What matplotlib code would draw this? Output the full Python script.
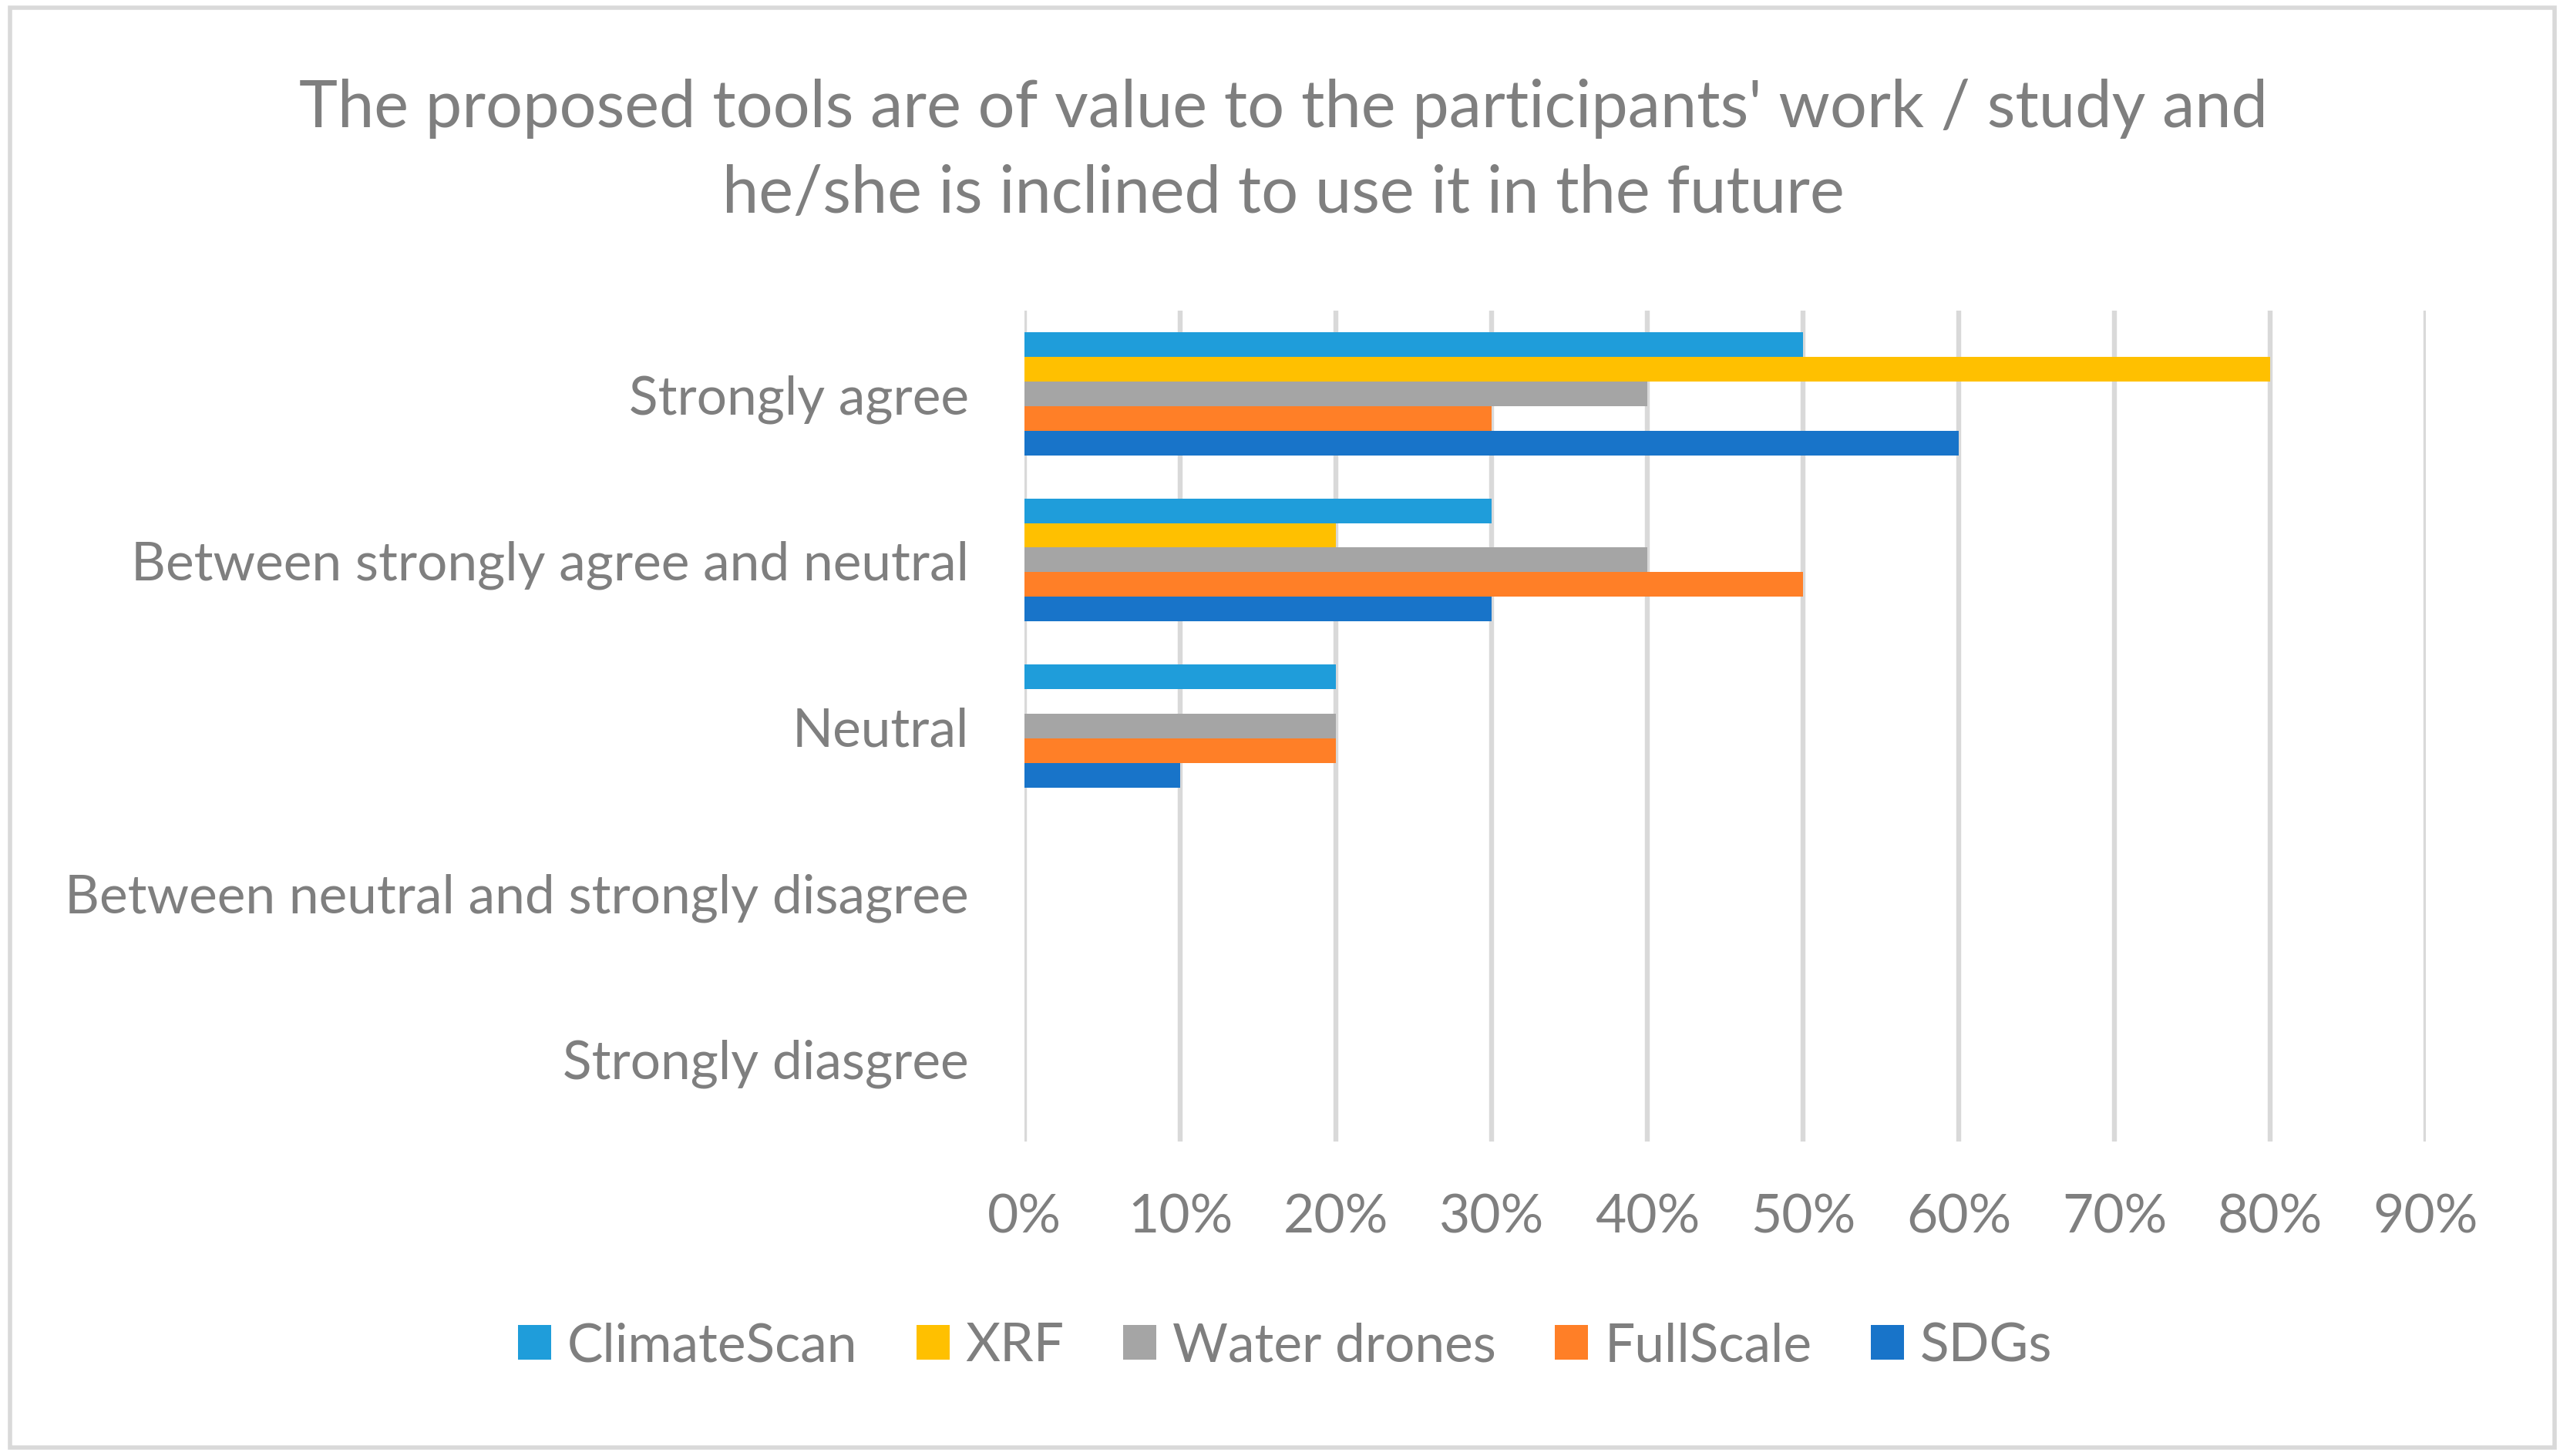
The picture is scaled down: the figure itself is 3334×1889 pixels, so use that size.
import matplotlib.pyplot as plt
import numpy as np
from matplotlib.patches import Rectangle

plt.rcParams['font.family'] = ['Lato', 'DejaVu Sans']

## categories (top to bottom) and series values in %
categories = ['Strongly agree', 'Between strongly agree and neutral', 'Neutral',
              'Between neutral and strongly disagree', 'Strongly diasgree']
series = ['ClimateScan', 'XRF', 'Water drones', 'FullScale', 'SDGs']
climatescan = [50, 30, 20, 0, 0]
xrf = [80, 20, 0, 0, 0]
water_drones = [40, 40, 20, 0, 0]
fullscale = [30, 50, 20, 0, 0]
sdgs = [60, 30, 10, 0, 0]
colors = ['#1F9DDA', '#FFC000', '#A5A5A5', '#FF7F27', '#1874C9']
x_ticks = [0, 10, 20, 30, 40, 50, 60, 70, 80, 90]

txt = '#7F7F7F'

fig = plt.figure(figsize=(16.67, 9.45), dpi=200)
ax = fig.add_axes([1329 / 3334, 1 - 1482 / 1890, (3147 - 1329) / 3334, (1482 - 404) / 1890])

y = np.arange(len(categories))
h = 0.148
valeurs = [climatescan, xrf, water_drones, fullscale, sdgs]
for i, (nom, vals) in enumerate(zip(series, valeurs)):
    ax.barh(y + (i - 2) * h, vals, height=h, color=colors[i], label=nom, zorder=3)

ax.set_ylim(len(categories) - 0.5, -0.5)
ax.set_xlim(0, 90)
ax.set_xticks(x_ticks)
ax.set_xticklabels([f'{t}%' for t in x_ticks])
ax.set_yticks(y)
ax.set_yticklabels(categories)
ax.tick_params(axis='both', length=0, colors=txt, labelsize=25)
ax.tick_params(axis='x', pad=24)
ax.tick_params(axis='y', pad=26)
ax.grid(axis='x', color='#D9D9D9', linewidth=2.3, zorder=0)
for s in ax.spines.values():
    s.set_visible(False)

fig.text(0.4995, 1 - 141 / 1890, "The proposed tools are of value to the participants' work / study and",
         ha='center', va='center', fontsize=30.5, color=txt)
fig.text(0.4995, 1 - 252 / 1890, 'he/she is inclined to use it in the future',
         ha='center', va='center', fontsize=30.5, color=txt)

fig.legend(loc='center', bbox_to_anchor=(1667 / 3334, 1 - 1747 / 1890), ncol=5, frameon=False,
           fontsize=25, labelcolor=txt, handlelength=0.62, handleheight=0.62,
           columnspacing=1.1, handletextpad=0.3)

fig.add_artist(Rectangle((0.004, 0.006), 0.99, 0.988, transform=fig.transFigure,
                         fill=False, edgecolor='#D9D9D9', linewidth=2))

fig.savefig('out.png', dpi=200)
